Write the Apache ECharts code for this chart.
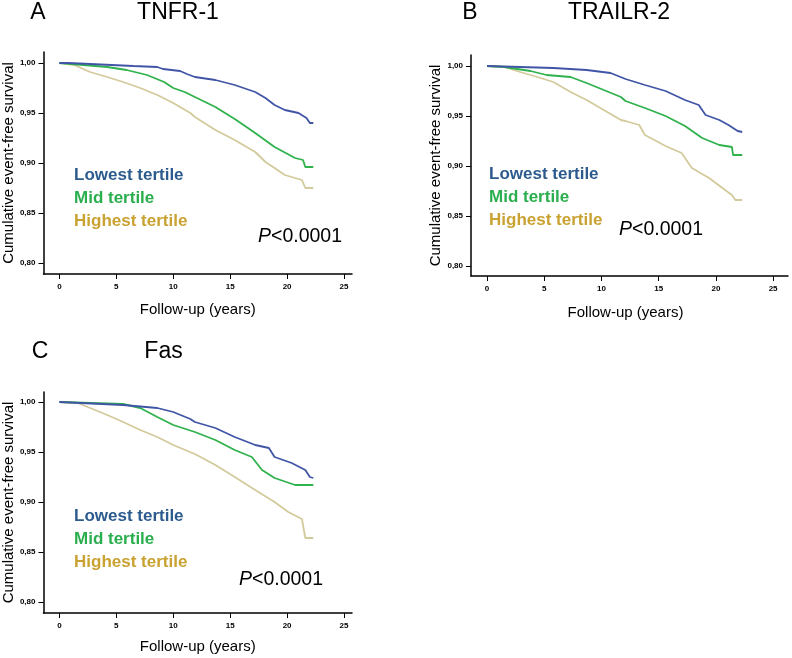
<!DOCTYPE html>
<html><head><meta charset="utf-8">
<script src="https://cdn.jsdelivr.net/npm/echarts@6/dist/echarts.min.js"></script>
<style>html,body{margin:0;padding:0;background:#fff}#c{width:792px;height:658px}</style>
</head><body><div id="c"></div>
<script>
// ---------- data ----------
const panelLetters = ['A', 'B', 'C'];
const panelTitles = ['TNFR-1', 'TRAILR-2', 'Fas'];
const groupNames = ['Lowest tertile', 'Mid tertile', 'Highest tertile'];
const pValueText = 'P<0.0001';
const xTickValues = [0, 5, 10, 15, 20, 25];
const yTickValues = [0.80, 0.85, 0.90, 0.95, 1.00];
const xAxisTitle = 'Follow-up (years)';
const yAxisTitle = 'Cumulative event-free survival';

// Panel A: TNFR-1  [years, survival]
const tnfrLowest = [[0,1.000],[0.8,1.000],[2.7,0.999],[6.5,0.997],[8.6,0.996],[9.1,0.994],[10.6,0.992],[11.2,0.989],[11.9,0.986],[13.7,0.983],[15.4,0.978],[17.2,0.971],[18.1,0.965],[18.9,0.958],[19.8,0.953],[21.0,0.950],[21.7,0.945],[22.0,0.940],[22.3,0.940]];
const tnfrMid = [[0,1.000],[2.1,0.998],[4.2,0.996],[5.9,0.993],[7.7,0.988],[9.2,0.981],[10.0,0.975],[11.0,0.971],[11.9,0.966],[13.7,0.956],[15.4,0.944],[17.2,0.930],[18.9,0.916],[20.7,0.905],[21.4,0.903],[21.6,0.896],[22.3,0.896]];
const tnfrHighest = [[0,1.000],[1.3,0.998],[2.7,0.991],[4.2,0.986],[5.6,0.981],[7.1,0.975],[8.6,0.968],[10.0,0.960],[11.5,0.950],[11.9,0.946],[13.7,0.933],[15.4,0.923],[17.2,0.911],[18.1,0.901],[18.9,0.895],[19.8,0.888],[21.3,0.883],[21.6,0.875],[22.3,0.875]];

// Panel B: TRAILR-2
const trailLowest = [[0,1.000],[5.8,0.998],[8.7,0.996],[10.8,0.993],[12.1,0.987],[13.8,0.981],[15.6,0.975],[17.3,0.966],[18.5,0.961],[19.1,0.951],[20.3,0.946],[21.1,0.941],[21.9,0.935],[22.3,0.934]];
const trailMid = [[0,1.000],[1.5,0.999],[3.8,0.995],[5.2,0.991],[7.3,0.989],[8.7,0.983],[10.2,0.976],[11.7,0.969],[12.1,0.965],[13.8,0.958],[15.6,0.950],[17.3,0.940],[18.8,0.928],[20.3,0.921],[21.4,0.919],[21.5,0.911],[22.3,0.911]];
const trailHighest = [[0,1.000],[1.5,0.999],[2.9,0.994],[4.4,0.989],[5.8,0.984],[7.3,0.974],[8.7,0.966],[10.2,0.956],[11.7,0.946],[12.1,0.945],[13.3,0.941],[13.8,0.931],[15.6,0.920],[17.0,0.913],[17.9,0.898],[19.4,0.888],[20.8,0.876],[21.4,0.871],[21.7,0.866],[22.3,0.866]];

// Panel C: Fas
const fasLowest = [[0,1.000],[5.6,0.997],[8.6,0.994],[10.0,0.990],[11.5,0.983],[11.9,0.980],[13.7,0.974],[15.4,0.965],[17.2,0.957],[18.4,0.954],[18.9,0.945],[20.4,0.939],[21.6,0.932],[22.0,0.925],[22.3,0.924]];
const fasMid = [[0,1.000],[5.6,0.998],[7.1,0.994],[8.6,0.985],[10.0,0.977],[11.9,0.970],[13.7,0.962],[15.4,0.952],[16.9,0.945],[17.8,0.932],[18.9,0.924],[20.7,0.917],[22.3,0.917]];
const fasHighest = [[0,1.000],[1.6,0.999],[2.7,0.994],[4.2,0.987],[5.6,0.980],[7.1,0.972],[8.6,0.965],[10.0,0.957],[11.9,0.948],[13.7,0.937],[15.4,0.925],[17.2,0.912],[18.9,0.900],[20.1,0.890],[21.3,0.883],[21.6,0.864],[22.3,0.864]];

const panelSeries = [
  [tnfrLowest, tnfrMid, tnfrHighest],
  [trailLowest, trailMid, trailHighest],
  [fasLowest, fasMid, fasHighest]
];

// ---------- styling / layout ----------
const lineColors = ['#4055a6', '#2fb14c', '#d3ca9c'];
const textColors = ['#2d5b8e', '#2aae4e', '#c9a232'];
const FONT = 'Liberation Sans, Arial, sans-serif';

const grids = [
  {left: 43, top: 52, width: 309, height: 222},
  {left: 471, top: 55, width: 317, height: 221},
  {left: 43, top: 392, width: 309, height: 221}
];
const xRanges = [[-1.4, 25.7], [-1.4, 26.3], [-1.4, 25.7]];
const yRanges = [[0.789, 1.011], [0.790, 1.011], [0.789, 1.010]];
const xNameGaps = [28, 29, 26];
const xNamePads = [[0, 0, 0, 0], [0, 8, 0, 0], [0, 0, 0, 0]];
const letterPos = [[38, 12.5], [470, 12.5], [40, 352]];
const titlePos = [[178, 12.5], [619, 12.5], [163.5, 352]];
const pPos = [[258, 236.5], [619, 230], [239, 580]];
const legendPos = [[69, 165], [484, 164], [69, 506]];

const axisLineStyle = {color: '#000', width: 1.5};

const option = {
  backgroundColor: '#fff',
  animation: false,
  grid: grids,
  xAxis: grids.map((g, i) => ({
    type: 'value', gridIndex: i, min: xRanges[i][0], max: xRanges[i][1],
    splitLine: {show: false},
    axisLine: {show: true, onZero: false, lineStyle: axisLineStyle},
    axisTick: {show: true, length: 5, lineStyle: {color: '#000', width: 1}, customValues: xTickValues},
    axisLabel: {customValues: xTickValues, margin: 9, fontSize: 8, fontWeight: 'bold', color: '#000', fontFamily: FONT},
    name: xAxisTitle, nameLocation: 'middle', nameGap: xNameGaps[i],
    nameTextStyle: {fontSize: 15, color: '#000', fontFamily: FONT, padding: xNamePads[i]}
  })),
  yAxis: grids.map((g, i) => ({
    type: 'value', gridIndex: i, min: yRanges[i][0], max: yRanges[i][1],
    splitLine: {show: false},
    axisLine: {show: true, onZero: false, lineStyle: axisLineStyle},
    axisTick: {show: true, length: 5, lineStyle: {color: '#000', width: 1}, customValues: yTickValues},
    axisLabel: {customValues: yTickValues, margin: 8, fontSize: 8, fontWeight: 'bold', color: '#000', fontFamily: FONT,
      formatter: v => v.toFixed(2).replace('.', ',')},
    name: yAxisTitle, nameLocation: 'middle', nameGap: 27,
    nameTextStyle: {fontSize: 15, color: '#000', fontFamily: FONT}
  })),
  legend: legendPos.map((p, i) => ({
    left: p[0], top: p[1], orient: 'vertical', padding: 0,
    itemWidth: 0, itemHeight: 20, itemGap: 3.3, icon: 'none',
    selectedMode: false,
    data: groupNames.map((n, k) => ({name: n, textStyle: {color: textColors[k]}})),
    textStyle: {fontSize: 17, fontWeight: 'bold', fontFamily: FONT, lineHeight: 20}
  })),
  series: [],
  graphic: []
};

panelSeries.forEach((group, i) => {
  group.forEach((data, k) => {
    option.series.push({
      type: 'line', name: groupNames[k], xAxisIndex: i, yAxisIndex: i,
      data: data, showSymbol: false, symbol: 'none',
      lineStyle: {color: lineColors[k], width: 1.8},
      itemStyle: {color: lineColors[k]},
      z: 3 - k
    });
  });
  option.graphic.push({
    type: 'text', x: letterPos[i][0], y: letterPos[i][1],
    style: {text: panelLetters[i], fill: '#000', font: '23px ' + FONT, textAlign: 'center', textVerticalAlign: 'middle'}
  });
  option.graphic.push({
    type: 'text', x: titlePos[i][0], y: titlePos[i][1],
    style: {text: panelTitles[i], fill: '#000', font: '23px ' + FONT, textAlign: 'center', textVerticalAlign: 'middle'}
  });
  option.graphic.push({
    type: 'text', x: pPos[i][0], y: pPos[i][1],
    style: {
      text: '{i|' + pValueText.slice(0, 1) + '}' + pValueText.slice(1),
      fill: '#000', fontSize: 19.5, fontFamily: FONT, textAlign: 'left', textVerticalAlign: 'middle',
      rich: {i: {fontStyle: 'italic', fontSize: 19.5, fontFamily: FONT, fill: '#000'}}
    }
  });
});

const chart = echarts.init(document.getElementById('c'), null, {renderer: 'canvas'});
chart.setOption(option);
</script>
</body></html>
